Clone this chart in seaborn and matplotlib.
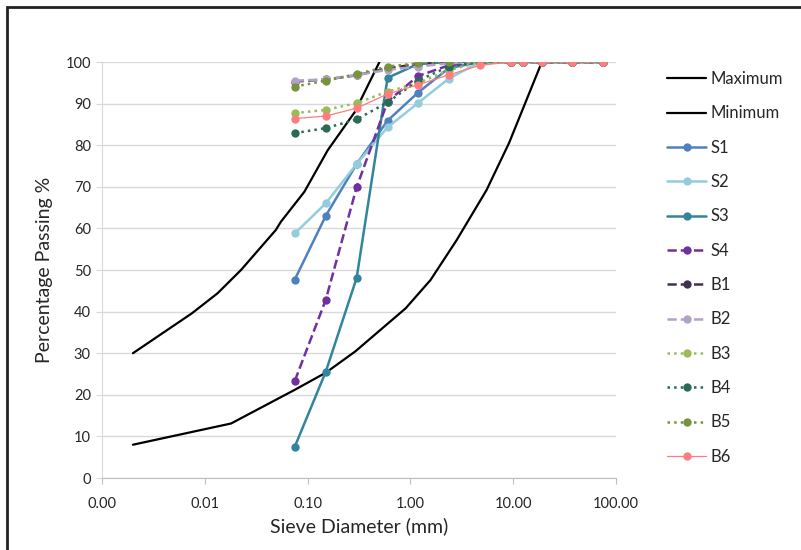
import numpy as np
import pandas as pd
import matplotlib
matplotlib.use("Agg")
import matplotlib.pyplot as plt
from matplotlib.patches import Rectangle
import seaborn as sns

# sieve sizes (mm)
sieve = [0.075, 0.15, 0.3, 0.6, 1.18, 2.36, 4.75, 9.5, 12.5, 19, 37.5, 75]

# grading envelope
max_x = [0.002, 0.0075, 0.0133, 0.0225, 0.049, 0.055, 0.093, 0.157, 0.288, 0.5]
max_y = [30, 39.6, 44.4, 50, 59.6, 61.6, 68.8, 78.8, 88, 100]
min_x = [0.002, 0.018, 0.075, 0.15, 0.29, 0.9, 1.57, 2.82, 5.5, 9.1, 19]
min_y = [8, 13.1, 21.2, 25.3, 30.4, 40.8, 47.6, 57.2, 69.2, 80.5, 100]

s1 = [47.7, 63.0, 75.5, 85.9, 92.6, 98.5, 100, 100, 100, 100, 100, 100]
s2 = [58.8, 66.0, 75.5, 84.3, 90.1, 96.0, 100, 100, 100, 100, 100, 100]
s3 = [7.5, 25.5, 48.1, 96.2, 99.5, 100, 100, 100, 100, 100, 100, 100]
s4 = [23.3, 42.8, 69.9, 90.5, 96.6, 99.2, 100, 100, 100, 100, 100, 100]
b1 = [95.3, 95.8, 96.8, 98.5, 99.5, 100, 100, 100, 100, 100, 100, 100]
b2 = [95.5, 95.8, 96.9, 98.1, 98.9, 99.7, 100, 100, 100, 100, 100, 100]
b3 = [87.7, 88.5, 90.1, 92.9, 94.9, 98.0, 100, 100, 100, 100, 100, 100]
b4 = [82.9, 84.1, 86.2, 90.3, 95.5, 98.9, 100, 100, 100, 100, 100, 100]
b5 = [94.1, 95.5, 97.1, 98.9, 99.7, 100, 100, 100, 100, 100, 100, 100]
b6 = [86.4, 87.0, 88.9, 92.3, 94.5, 96.9, 99.2, 100, 100, 100, 100, 100]

sns.set_style("white")
plt.rcParams['font.family'] = ['Lato', 'DejaVu Sans']

fig = plt.figure(figsize=(8.01, 5.5), dpi=100)
ax = fig.add_axes([102/801, 1-478/550, 514/801, 416/550])

# envelope
sns.lineplot(x=max_x, y=max_y, ax=ax, color='black', linewidth=1.6, label='Maximum', sort=False)
sns.lineplot(x=min_x, y=min_y, ax=ax, color='black', linewidth=1.6, label='Minimum', sort=False)

series = [
    ('S1', s1, '#4F81BD', '-', 1.8),
    ('S2', s2, '#93CDDD', '-', 1.8),
    ('S3', s3, '#31859C', '-', 1.8),
    ('S4', s4, '#7030A0', '--', 1.8),
    ('B1', b1, '#403151', '--', 1.8),
    ('B2', b2, '#B3A2C7', '--', 1.8),
    ('B3', b3, '#9BBB59', ':', 1.8),
    ('B4', b4, '#2B6B55', ':', 1.8),
    ('B5', b5, '#77933C', ':', 1.8),
    ('B6', b6, '#FF7C80', '-', 0.9),
]
for name, vals, col, ls, lw in series:
    sns.lineplot(x=sieve, y=vals, ax=ax, color=col, linestyle=ls, linewidth=lw,
                 marker='o', markersize=6, markeredgewidth=0, label=name)

ax.set_xscale('log')
ax.set_xlim(0.001, 100)
ax.set_ylim(0, 100)
xt = [0.001, 0.01, 0.1, 1, 10, 100]
ax.set_xticks(xt)
ax.set_xticklabels(['0.00', '0.01', '0.10', '1.00', '10.00', '100.00'])
ax.xaxis.set_minor_locator(matplotlib.ticker.NullLocator())
ax.set_yticks(range(0, 101, 10))
ax.yaxis.grid(True, color='#D9D9D9', linewidth=1)
ax.xaxis.grid(False)
for s in ['top', 'right']:
    ax.spines[s].set_visible(False)
ax.spines['left'].set_color('#D9D9D9')
ax.spines['bottom'].set_color('#BFBFBF')
ax.tick_params(axis='x', bottom=True, length=4, color='#BFBFBF', labelsize=10.5, pad=10)
ax.tick_params(axis='y', left=True, length=4, color='#D9D9D9', labelsize=10.5, pad=4)

ax.set_xlabel('Sieve Diameter (mm)', fontsize=14)
ax.set_ylabel('Percentage Passing %', fontsize=14)
ax.xaxis.set_label_coords(0.5, -0.094)
ax.yaxis.set_label_coords(-0.095, 0.5)

leg = ax.legend(loc='upper left', bbox_to_anchor=(667/801, 1-71/550), bbox_transform=fig.transFigure,
                frameon=False, fontsize=12, handlelength=2.35, labelspacing=1.1,
                handletextpad=0.25, borderaxespad=0, borderpad=0)

# chart border
fig.patches.append(Rectangle((7/801, -0.05), 1.1, 1 - 7/550 + 0.05, transform=fig.transFigure,
                             fill=False, edgecolor='#222222', linewidth=2))

fig.savefig('out.png', dpi=100)
